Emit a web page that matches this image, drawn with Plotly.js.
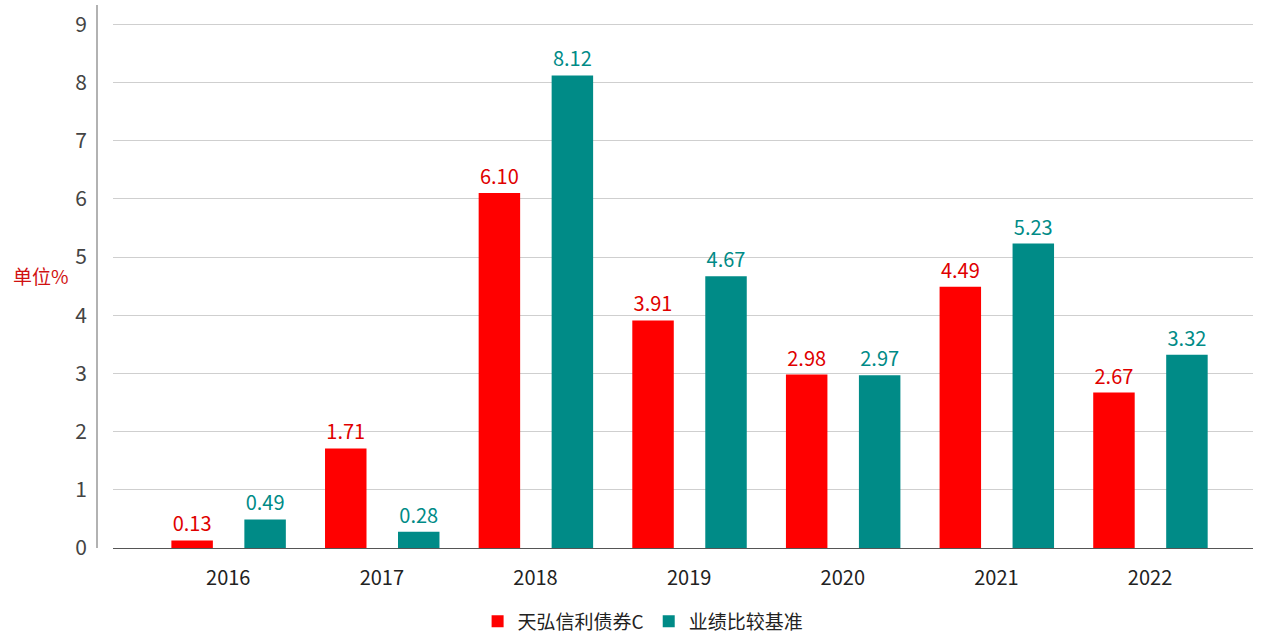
<!DOCTYPE html>
<html><head><meta charset="utf-8">
<script src="https://cdn.plot.ly/plotly-3.0.1.min.js"></script>
<style>html,body{margin:0;padding:0;background:#fff}#c{width:1265px;height:635px}</style>
</head><body><div id="c"></div>
<script>
const years = ['2016','2017','2018','2019','2020','2021','2022'];
const fundName = '天弘信利债券C';
const benchName = '业绩比较基准';
const fundValues = [0.13, 1.71, 6.10, 3.91, 2.98, 4.49, 2.67];
const benchValues = [0.49, 0.28, 8.12, 4.67, 2.97, 5.23, 3.32];
const yTicks = [0,1,2,3,4,5,6,7,8,9];

const FONT = '"Noto Sans CJK SC", "Noto Sans", sans-serif';
const RED = '#FF0000', TEAL = '#008B87';

const traces = [
  {type:'bar', name:fundName, x:years, y:fundValues, width:0.27, offset:-0.37,
   marker:{color:RED}, texttemplate:'%{y:.2f}', textposition:'outside', cliponaxis:false,
   textfont:{color:'#E00000', size:20, family:FONT}},
  {type:'bar', name:benchName, x:years, y:benchValues, width:0.27, offset:0.105,
   marker:{color:TEAL}, texttemplate:'%{y:.2f}', textposition:'outside', cliponaxis:false,
   textfont:{color:'#008B87', size:20, family:FONT}}
];

const layout = {
  width:1265, height:635,
  margin:{l:113, r:12, t:5, b:87, autoexpand:false},
  paper_bgcolor:'#fff', plot_bgcolor:'#fff',
  font:{family:FONT, color:'#333'},
  barmode:'group',
  showlegend:true,
  legend:{orientation:'h', x:0.465, xanchor:'center', y:-0.1, yanchor:'top',
          font:{size:19, color:'#222', family:FONT}, tracegroupgap:0, traceorder:'normal', itemwidth:30},
  xaxis:{type:'category', range:[-0.75, 6.67], showgrid:false, showline:true, linecolor:'#555', linewidth:1,
         ticks:'', ticklabelstandoff:12, tickfont:{size:20, color:'#222', family:FONT}, fixedrange:true},
  yaxis:{range:[0, 9.33], tickvals:yTicks, showgrid:true, gridcolor:'#cfcfcf', gridwidth:1,
         zeroline:false, showline:false, ticks:'', ticklabelstandoff:25,
         tickfont:{size:21, color:'#444', family:FONT}},
  shapes:[
    {type:'line', xref:'paper', yref:'paper', x0:-16/1140, x1:-16/1140, y0:0, y1:1.0,
     line:{color:'#999', width:1.5}}
  ],
  annotations:[
    {text:'单位%', xref:'paper', yref:'y', x:-0.037, y:4.68, xanchor:'right', yanchor:'middle',
     showarrow:false, font:{size:19, color:'#D01010', family:FONT}}
  ]
};
Plotly.newPlot('c', traces, layout, {displayModeBar:false, staticPlot:true});
</script>
</body></html>
